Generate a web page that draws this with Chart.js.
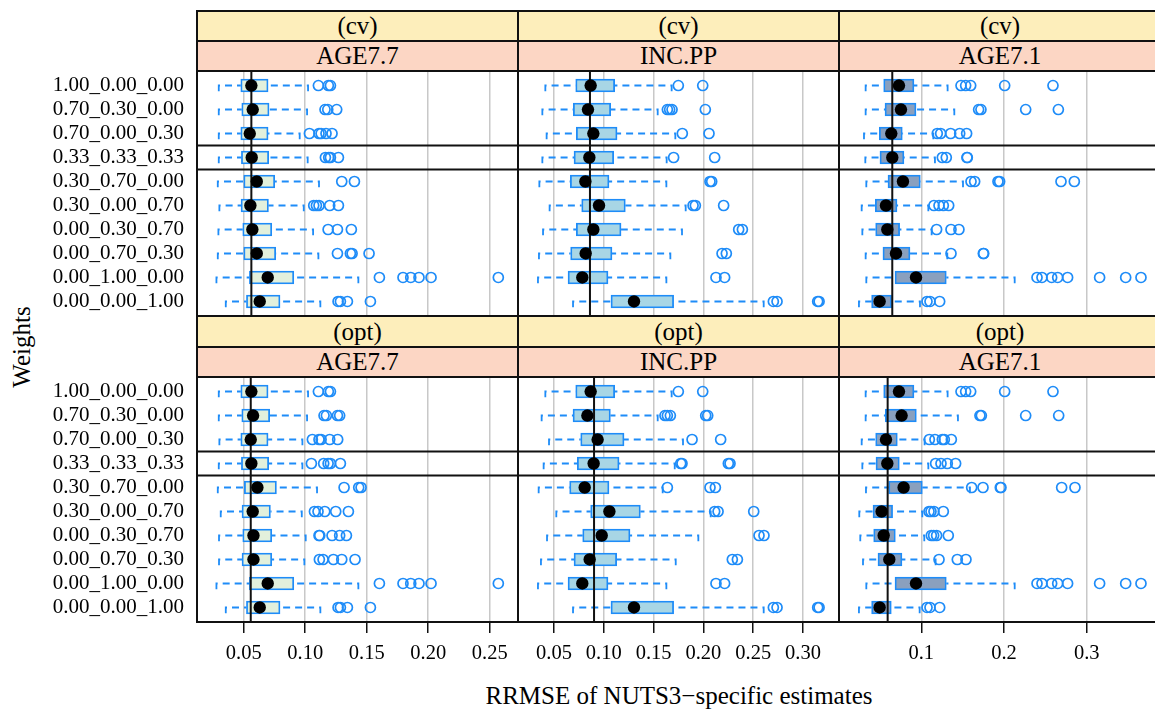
<!DOCTYPE html>
<html>
<head>
<meta charset="utf-8">
<script src="https://cdn.jsdelivr.net/npm/chart.js@4.4.1/dist/chart.umd.min.js"></script>
<style>
  html, body { margin: 0; padding: 0; background: #fff; overflow: hidden; }
  body { width: 1155px; height: 711px; position: relative; font-family: "Liberation Serif", "Times New Roman", serif; color: #000; }
  .panel { position: absolute; }
  .panel canvas { display: block; }
  .strip { position: absolute; box-sizing: border-box; border: 2px solid #111; text-align: center; font-size: 25px; white-space: nowrap; overflow: hidden; }
  .method { background: #fdeebb; }
  .target { background: #fcd6c4; }
  #xlab { position: absolute; left: 679px; top: 683px; transform: translateX(-50%); font-size: 25px; line-height: 25px; white-space: nowrap; }
  #ylab { position: absolute; left: 20.5px; top: 347px; transform: translate(-50%, -50%) rotate(-90deg); font-size: 25px; line-height: 25px; white-space: nowrap; }
</style>
</head>
<body>
<div id="xlab">RRMSE of NUTS3−specific estimates</div>
<div id="ylab">Weights</div>
<script>
// categories
const WEIGHTS = ['1.00_0.00_0.00', '0.70_0.30_0.00', '0.70_0.00_0.30', '0.33_0.33_0.33', '0.30_0.70_0.00',
                 '0.30_0.00_0.70', '0.00_0.30_0.70', '0.00_0.70_0.30', '0.00_1.00_0.00', '0.00_0.00_1.00'];
const METHODS = ['(cv)', '(opt)'];
const TARGETS = ['AGE7.7', 'INC.PP', 'AGE7.1'];

// x ticks per column
const XTICKS = [[0.05, 0.10, 0.15, 0.20, 0.25], [0.05, 0.10, 0.15, 0.20, 0.25, 0.30], [0.1, 0.2, 0.3]];
const XTICK_LABELS = [['0.05', '0.10', '0.15', '0.20', '0.25'], ['0.05', '0.10', '0.15', '0.20', '0.25', '0.30'], ['0.1', '0.2', '0.3']];
const XLIM = [[0.0120, 0.2730], [0.01386, 0.3361], [0.00048, 0.3898]];

// reference lines (vertical black line)
const REF_CV = [0.0562, 0.0861, 0.0649];
const REF_OPT = [0.0557, 0.0902, 0.0593];

// box stats: [lower whisker, q1, median, q3, upper whisker]
const CV_AGE77 = [
  [0.0297, 0.0476, 0.0562, 0.0698, 0.1023], [0.0297, 0.0484, 0.0573, 0.0706, 0.1015],
  [0.0297, 0.0476, 0.0549, 0.0698, 0.0955], [0.0297, 0.0481, 0.0565, 0.0703, 0.1020],
  [0.0289, 0.0500, 0.0606, 0.0752, 0.1112], [0.0302, 0.0478, 0.0554, 0.0701, 0.0988],
  [0.0294, 0.0492, 0.0570, 0.0728, 0.1064], [0.0289, 0.0500, 0.0606, 0.0760, 0.1107],
  [0.0278, 0.0546, 0.0695, 0.0907, 0.1432], [0.0354, 0.0522, 0.0630, 0.0795, 0.1123]];
const CV_AGE77_OUT = [
  [0.1107, 0.1188, 0.1205], [0.1161, 0.1183, 0.1256], [0.1034, 0.1112, 0.1129, 0.1169, 0.1218],
  [0.1164, 0.1191, 0.1205, 0.1270], [0.1297, 0.1400], [0.1069, 0.1091, 0.1112, 0.1199, 0.1270],
  [0.1186, 0.1262, 0.1375], [0.1262, 0.1367, 0.1381, 0.1519],
  [0.1603, 0.1795, 0.1858, 0.1925, 0.2023, 0.2570], [0.1267, 0.1286, 0.1343, 0.1530]];

const CV_INCPP = [
  [0.0413, 0.0718, 0.0868, 0.1109, 0.1681], [0.0383, 0.0694, 0.0841, 0.1069, 0.1541],
  [0.0426, 0.0724, 0.0895, 0.1133, 0.1718], [0.0383, 0.0701, 0.0855, 0.1099, 0.1631],
  [0.0353, 0.0664, 0.0815, 0.1052, 0.1628], [0.0456, 0.0778, 0.0952, 0.1216, 0.1822],
  [0.0390, 0.0724, 0.0895, 0.1173, 0.1785], [0.0349, 0.0667, 0.0818, 0.1082, 0.1668],
  [0.0339, 0.0641, 0.0784, 0.1042, 0.1628], [0.0691, 0.1072, 0.1303, 0.1701, 0.2605]];
const CV_INCPP_OUT = [
  [0.1748, 0.1993], [0.1638, 0.1661, 0.1685, 0.2019], [0.1788, 0.2056], [0.1701, 0.2113],
  [0.2066, 0.2083], [0.1896, 0.1919, 0.2203], [0.2354, 0.2391], [0.2187, 0.2230],
  [0.2126, 0.2213], [0.2702, 0.2739, 0.3147, 0.3161]];

const CV_AGE71 = [
  [0.0327, 0.0545, 0.0730, 0.0911, 0.1318], [0.0327, 0.0561, 0.0754, 0.0936, 0.1399],
  [0.0307, 0.0492, 0.0637, 0.0770, 0.1145], [0.0323, 0.0500, 0.0649, 0.0790, 0.1165],
  [0.0335, 0.0597, 0.0778, 0.0988, 0.1504], [0.0279, 0.0444, 0.0573, 0.0706, 0.1085],
  [0.0287, 0.0448, 0.0589, 0.0738, 0.1125], [0.0327, 0.0536, 0.0694, 0.0863, 0.1314],
  [0.0335, 0.0682, 0.0936, 0.1302, 0.2129], [0.0246, 0.0399, 0.0496, 0.0641, 0.0984]];
const CV_AGE71_OUT = [
  [0.1480, 0.1536, 0.1597, 0.2008, 0.2592], [0.1693, 0.1721, 0.2262, 0.2657],
  [0.1193, 0.1234, 0.1355, 0.1464, 0.1548], [0.1254, 0.1302, 0.1552, 0.1556],
  [0.1601, 0.1645, 0.1927, 0.1947, 0.2689, 0.2850], [0.1153, 0.1214, 0.1266, 0.1331],
  [0.1185, 0.1359, 0.1455], [0.1359, 0.1750, 0.1754],
  [0.2399, 0.2459, 0.2576, 0.2649, 0.2769, 0.3156, 0.3471, 0.3656], [0.1069, 0.1105, 0.1222]];

const OPT_AGE77 = [
  [0.0297, 0.0476, 0.0562, 0.0698, 0.1023], [0.0297, 0.0484, 0.0576, 0.0711, 0.1015],
  [0.0302, 0.0476, 0.0557, 0.0698, 0.0977], [0.0297, 0.0481, 0.0562, 0.0703, 0.0977],
  [0.0289, 0.0505, 0.0611, 0.0766, 0.1096], [0.0313, 0.0486, 0.0573, 0.0717, 0.0972],
  [0.0299, 0.0492, 0.0579, 0.0728, 0.1004], [0.0299, 0.0486, 0.0579, 0.0728, 0.0993],
  [0.0278, 0.0546, 0.0695, 0.0907, 0.1432], [0.0354, 0.0522, 0.0630, 0.0795, 0.1123]];
const OPT_AGE77_OUT = [
  [0.1107, 0.1188, 0.1205], [0.1153, 0.1172, 0.1262, 0.1280], [0.1058, 0.1112, 0.1129, 0.1199, 0.1264],
  [0.1050, 0.1150, 0.1186, 0.1205, 0.1286], [0.1316, 0.1435, 0.1454],
  [0.1075, 0.1104, 0.1159, 0.1248, 0.1351], [0.1112, 0.1118, 0.1218, 0.1280, 0.1335],
  [0.1115, 0.1145, 0.1229, 0.1297, 0.1405],
  [0.1603, 0.1795, 0.1858, 0.1925, 0.2023, 0.2570], [0.1267, 0.1286, 0.1343, 0.1530]];

const OPT_INCPP = [
  [0.0413, 0.0718, 0.0868, 0.1109, 0.1681], [0.0376, 0.0691, 0.0835, 0.1066, 0.1541],
  [0.0450, 0.0768, 0.0938, 0.1203, 0.1795], [0.0396, 0.0734, 0.0898, 0.1153, 0.1712],
  [0.0346, 0.0657, 0.0808, 0.1052, 0.1591], [0.0523, 0.0868, 0.1056, 0.1367, 0.2073],
  [0.0430, 0.0788, 0.0979, 0.1263, 0.1949], [0.0369, 0.0701, 0.0858, 0.1129, 0.1722],
  [0.0339, 0.0641, 0.0784, 0.1042, 0.1628], [0.0691, 0.1072, 0.1303, 0.1701, 0.2605]];
const OPT_INCPP_OUT = [
  [0.1748, 0.1993], [0.1614, 0.1638, 0.1668, 0.2023, 0.2043], [0.1886, 0.2173],
  [0.1772, 0.1785, 0.2250, 0.2267], [0.1638, 0.2066, 0.2120], [0.2113, 0.2147, 0.2505],
  [0.2558, 0.2608], [0.2290, 0.2341], [0.2126, 0.2213], [0.2702, 0.2739, 0.3147, 0.3161]];

const OPT_AGE71 = [
  [0.0327, 0.0545, 0.0730, 0.0911, 0.1318], [0.0327, 0.0565, 0.0762, 0.0940, 0.1443],
  [0.0279, 0.0448, 0.0573, 0.0710, 0.1040], [0.0287, 0.0452, 0.0589, 0.0734, 0.1085],
  [0.0331, 0.0605, 0.0786, 0.1012, 0.1588], [0.0250, 0.0416, 0.0520, 0.0653, 0.1012],
  [0.0262, 0.0424, 0.0545, 0.0686, 0.1036], [0.0295, 0.0476, 0.0613, 0.0766, 0.1173],
  [0.0335, 0.0682, 0.0936, 0.1302, 0.2129], [0.0246, 0.0399, 0.0496, 0.0637, 0.0980]];
const OPT_AGE71_OUT = [
  [0.1480, 0.1536, 0.1597, 0.2008, 0.2592], [0.1709, 0.1726, 0.2262, 0.2661],
  [0.1097, 0.1165, 0.1254, 0.1278, 0.1363], [0.1173, 0.1238, 0.1314, 0.1415],
  [0.1609, 0.1746, 0.1955, 0.1963, 0.2697, 0.2858], [0.1093, 0.1117, 0.1153, 0.1266],
  [0.1121, 0.1149, 0.1185, 0.1326], [0.1214, 0.1435, 0.1540],
  [0.2399, 0.2459, 0.2576, 0.2649, 0.2769, 0.3156, 0.3471, 0.3656], [0.1069, 0.1105, 0.1222]];

const STATS = [[CV_AGE77, CV_INCPP, CV_AGE71], [OPT_AGE77, OPT_INCPP, OPT_AGE71]];
const OUTS = [[CV_AGE77_OUT, CV_INCPP_OUT, CV_AGE71_OUT], [OPT_AGE77_OUT, OPT_INCPP_OUT, OPT_AGE71_OUT]];
const REFS = [REF_CV, REF_OPT];

// layout (pixels)
const COLS = [197, 518, 839, 1161];
const PANEL_TOP = [71, 377];
const PANEL_H = 245;
const STRIPS = [[11, 41, 71], [316, 347, 377]];
const AXIS_H = 60;

const BLUE = '#1e8cf8';
const FILLS = ['#e2f0dc', '#a8d6e5', '#8aa0be'];
const INK = '#111';
const FONT = '"Liberation Serif", "Times New Roman", serif';
const YMIN = 0.395, YMAX = 10.605;

Chart.defaults.font.family = FONT;
Chart.defaults.color = '#000';

// panel frame
const framePlugin = {
  id: 'frame',
  afterDraw(chart) {
    const { ctx, chartArea: a } = chart;
    ctx.save();
    ctx.strokeStyle = INK;
    ctx.lineWidth = 2;
    ctx.strokeRect(a.left, a.top, a.right - a.left, a.bottom - a.top);
    ctx.restore();
  }
};

function noPad(s) {
  s.paddingTop = 0; s.paddingBottom = 0; s.paddingLeft = 0; s.paddingRight = 0;
}

function addStrip(text, cls, x0, x1, y0, y1) {
  const d = document.createElement('div');
  d.className = 'strip ' + cls;
  d.style.left = (x0 - 1) + 'px';
  d.style.top = (y0 - 1) + 'px';
  d.style.width = (x1 - x0 + 2) + 'px';
  d.style.height = (y1 - y0 + 2) + 'px';
  d.style.lineHeight = (y1 - y0 - 2) + 'px';
  d.textContent = text;
  document.body.appendChild(d);
}

function buildPanel(r, c) {
  const stats = STATS[r][c];
  const outs = OUTS[r][c];
  const ref = REFS[r][c];
  const bottom = r === 1;

  const left = c === 0 ? 0 : COLS[c];
  const box = document.createElement('div');
  box.className = 'panel';
  box.style.left = left + 'px';
  box.style.top = PANEL_TOP[r] + 'px';
  box.style.width = (COLS[c + 1] - left) + 'px';
  box.style.height = (PANEL_H + (bottom ? AXIS_H : 0)) + 'px';
  const cv = document.createElement('canvas');
  box.appendChild(cv);
  document.body.appendChild(box);

  const medians = stats.map((s, i) => ({ x: s[2], y: i + 1 }));
  const boxes = stats.map((s, i) => ({ x: [s[1], s[3]], y: i + 1 }));
  const outliers = [];
  outs.forEach((row, i) => row.forEach(v => outliers.push({ x: v, y: i + 1 })));
  const gap = { x: NaN, y: NaN };
  const whiskers = [];
  stats.forEach((s, i) => {
    const y = i + 1;
    whiskers.push({ x: s[0], y: y + 0.24 }, { x: s[0], y }, { x: s[1], y }, gap);
    whiskers.push({ x: s[4], y: y + 0.24 }, { x: s[4], y }, { x: s[3], y }, gap);
  });
  const [xmin, xmax] = XLIM[c];
  const seps = [{ x: xmin, y: 3.5 }, { x: xmax, y: 3.5 }, gap, { x: xmin, y: 4.5 }, { x: xmax, y: 4.5 }];

  new Chart(cv, {
    type: 'scatter',
    data: {
      datasets: [
        { type: 'scatter', data: medians, pointRadius: 6.2, pointBackgroundColor: '#000', pointBorderWidth: 0 },
        { type: 'scatter', data: outliers, pointRadius: 5, pointBackgroundColor: 'rgba(0,0,0,0)',
          pointBorderColor: BLUE, pointBorderWidth: 1.7 },
        { type: 'line', data: [{ x: ref, y: YMIN }, { x: ref, y: YMAX }], borderColor: INK, borderWidth: 2,
          pointRadius: 0, fill: false },
        { type: 'bar', indexAxis: 'y', data: boxes, backgroundColor: FILLS[c], borderColor: BLUE,
          borderWidth: 1.8, borderSkipped: false, barThickness: 13 },
        { type: 'line', data: whiskers, borderColor: BLUE, borderWidth: 1.8, borderDash: [7, 5],
          pointRadius: 0, fill: false, spanGaps: false },
        { type: 'line', data: seps, borderColor: INK, borderWidth: 2, pointRadius: 0, fill: false, spanGaps: false }
      ]
    },
    options: {
      responsive: true,
      maintainAspectRatio: false,
      devicePixelRatio: 1,
      animation: false,
      events: [],
      layout: { padding: 0, autoPadding: false },
      plugins: { legend: { display: false }, tooltip: { enabled: false } },
      scales: {
        x: {
          type: 'linear', min: xmin, max: xmax, bounds: 'data', offset: false,
          afterBuildTicks: s => { s.ticks = XTICKS[c].map(v => ({ value: v })); },
          afterFit: s => { s.height = bottom ? AXIS_H : 0; noPad(s); },
          border: { display: false },
          grid: { offset: false, color: '#c8c8c8', lineWidth: 1.5, drawTicks: bottom, tickLength: 11, tickColor: INK, tickWidth: 1.5 },
          ticks: { display: bottom, autoSkip: false, maxRotation: 0, minRotation: 0, padding: 8,
                   font: { size: 20.5 }, color: '#000', callback: (v, i) => XTICK_LABELS[c][i] }
        },
        y: {
          type: 'linear', min: YMIN, max: YMAX, reverse: true, bounds: 'data', offset: false, display: c === 0,
          afterBuildTicks: s => { s.ticks = WEIGHTS.map((w, i) => ({ value: i + 1 })); },
          afterFit: s => { s.width = c === 0 ? COLS[0] : 0; noPad(s); },
          border: { display: false },
          grid: { offset: false, display: false, drawTicks: false },
          ticks: { autoSkip: false, padding: 13, font: { size: 21 }, color: '#000',
                   callback: (v, i) => WEIGHTS[i] }
        }
      }
    },
    plugins: [framePlugin]
  });
}

for (let r = 0; r < 2; r++) {
  for (let c = 0; c < 3; c++) {
    buildPanel(r, c);
    addStrip(METHODS[r], 'method', COLS[c], COLS[c + 1], STRIPS[r][0], STRIPS[r][1]);
    addStrip(TARGETS[c], 'target', COLS[c], COLS[c + 1], STRIPS[r][1], STRIPS[r][2]);
  }
}
</script>
</body>
</html>
